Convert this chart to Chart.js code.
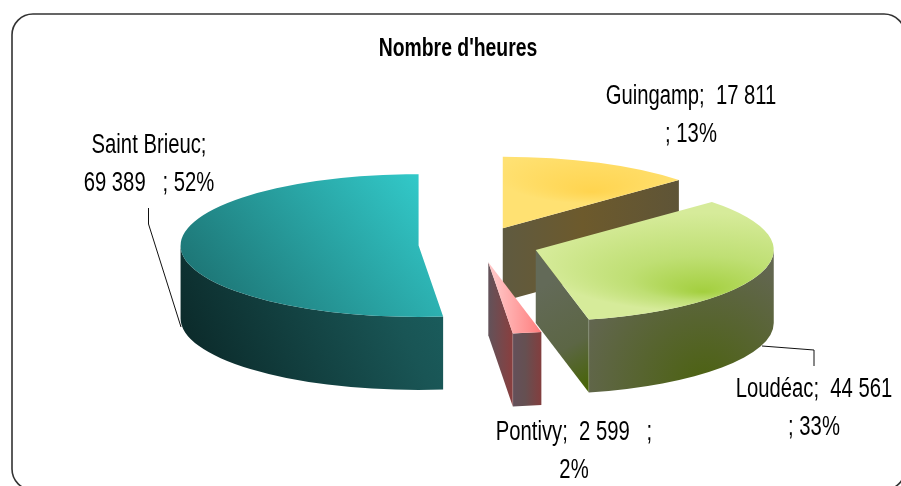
<!DOCTYPE html>
<html>
<head>
<meta charset="utf-8">
<style>
  html, body { margin: 0; padding: 0; background: #fff; overflow: hidden; }
  canvas { display: block; }
</style>
<script src="https://cdn.jsdelivr.net/npm/chart.js@4/dist/chart.umd.min.js"></script>
</head>
<body>
<canvas id="myChart" width="901" height="486"></canvas>
<script>
const titleText = "Nombre d'heures";
const categories = ['Guingamp', 'Loudéac', 'Pontivy', 'Saint Brieuc'];
const heures = [17811, 44561, 2599, 69389];
const labelLines = [
    ['Guingamp;  17 811', '; 13%'],
    ['Loudéac;  44 561', '; 33%'],
    ['Pontivy;  2 599   ;', '2%'],
    ['Saint Brieuc;', '69 389   ; 52%']
];
const labelCenters = [[691, 97], [814, 390], [574, 433], [149, 146]];
const leaders = [
    null,
    [[762, 346], [814, 350], [814, 366]],
    null,
    [[148.5, 208], [148.5, 224], [181, 327]]
];

// vue 3D : centre du camembert, ecrasement, eclatement, epaisseur
const centerX = 478.5, centerY = 244.6;
const tilt = 0.3, explode = 60, depth = 73;
const drawOrder = [0, 3, 1, 2];
const fontName = '"Liberation Sans", Arial, sans-serif';
// pas de police etroite installee
const narrow = 0.75, narrowTitle = 0.775;

function sliceOrigin(start, end) {
    const mid = (start + end) / 2;
    return [centerX + explode * Math.cos(mid), centerY + explode * Math.sin(mid) * tilt];
}

function sliceAngles(index) {
    const total = heures.reduce((a, b) => a + b, 0);
    let start = -Math.PI / 2;
    for (let i = 0; i < index; i++) start += heures[i] / total * Math.PI * 2;
    return [start, start + heures[index] / total * Math.PI * 2];
}

// degrade du dessus, donne en pixels ecran puis ramene dans le repere de l'arc
function topFill(context) {
    const chart = context.chart;
    const i = context.dataIndex;
    if (!chart.chartArea || i === undefined) return '#888';
    const ax = (chart.chartArea.left + chart.chartArea.right) / 2;
    const ay = (chart.chartArea.top + chart.chartArea.bottom) / 2;
    const [start, end] = sliceAngles(i);
    const [ox, oy] = sliceOrigin(start, end);
    const px = x => ax + x - ox;
    const py = y => ay + (y - oy) / tilt;
    const ctx = chart.ctx;

    // ligne de degrade droite a l'ecran malgre l'ecrasement
    const linear = (x0, y0, x1, y1) => {
        const gx = x1 - x0, gy = y1 - y0;
        const k = (gx * gx + gy * gy) / (gx * gx + tilt * tilt * gy * gy);
        const lx = px(x0), ly = py(y0);
        return ctx.createLinearGradient(lx, ly, lx + gx * k, ly + tilt * gy * k);
    };

    let g;
    if (i === 0) {
        g = ctx.createRadialGradient(px(592), py(192), 0, px(592), py(175), 95);
        g.addColorStop(0, '#ffd44f');
        g.addColorStop(1, '#ffe172');
    } else if (i === 1) {
        g = ctx.createRadialGradient(px(703), py(292), 0, px(703), py(262), 165);
        g.addColorStop(0, '#a3cf3e');
        g.addColorStop(0.45, '#bfdf74');
        g.addColorStop(1, '#d6eb9a');
    } else if (i === 2) {
        g = linear(495, 300, 540, 300);
        g.addColorStop(0, '#ffc4c4');
        g.addColorStop(1, '#ff7f7f');
    } else {
        g = linear(430, 175, 235, 335);
        g.addColorStop(0, '#33cccc');
        g.addColorStop(1, '#1d7474');
    }
    return g;
}

function wallFill(ctx, i, kind) {
    let g;
    if (i === 0) {
        g = ctx.createLinearGradient(503, 0, 680, 0);
        g.addColorStop(0, '#5f5a40');
        g.addColorStop(0.45, '#6d5a2c');
        g.addColorStop(1, '#5e5437');
    } else if (i === 1 && kind === 'side') {
        g = ctx.createLinearGradient(535, 290, 590, 385);
        g.addColorStop(0, '#636a58');
        g.addColorStop(0.6, '#5c6645');
        g.addColorStop(1, '#486408');
    } else if (i === 1) {
        g = ctx.createRadialGradient(705, 385, 0, 705, 385, 130);
        g.addColorStop(0, '#4c6210');
        g.addColorStop(1, '#62664f');
    } else if (i === 2 && kind === 'side') {
        g = ctx.createLinearGradient(489, 0, 513, 0);
        g.addColorStop(0, '#635259');
        g.addColorStop(1, '#8a3e3e');
    } else if (i === 2) {
        g = ctx.createLinearGradient(513, 0, 543, 0);
        g.addColorStop(0, '#64505a');
        g.addColorStop(0.4, '#655052');
        g.addColorStop(1, '#863c3c');
    } else {
        g = ctx.createLinearGradient(440, 300, 225, 405);
        g.addColorStop(0, '#1a5c5c');
        g.addColorStop(0.2, '#195555');
        g.addColorStop(1, '#0c2c2c');
    }
    return g;
}

function drawWalls(ctx, arc, i) {
    const R = arc.outerRadius;
    const start = arc.startAngle, end = arc.endAngle;
    const [ox, oy] = sliceOrigin(start, end);
    const point = a => [ox + R * Math.cos(a), oy + R * tilt * Math.sin(a)];

    // face radiale, visible seulement si elle regarde vers l'avant
    if (Math.cos(end) > 0.01) {
        const [ex, ey] = point(end);
        ctx.fillStyle = wallFill(ctx, i, 'side');
        ctx.beginPath();
        ctx.moveTo(ox, oy);
        ctx.lineTo(ex, ey);
        ctx.lineTo(ex, ey + depth);
        ctx.lineTo(ox, oy + depth);
        ctx.closePath();
        ctx.fill();
    }

    // face exterieure : partie de l'arc tournee vers nous
    const a0 = Math.max(start, 0);
    const a1 = Math.min(end, Math.PI);
    if (a1 > a0) {
        ctx.fillStyle = wallFill(ctx, i, 'outer');
        ctx.beginPath();
        ctx.ellipse(ox, oy, R, R * tilt, 0, a0, a1);
        ctx.ellipse(ox, oy + depth, R, R * tilt, 0, a1, a0, true);
        ctx.closePath();
        ctx.fill();
        if (a1 === end) {
            const [ex, ey] = point(end);
            ctx.strokeStyle = 'rgba(255,255,255,0.15)';
            ctx.lineWidth = 1;
            ctx.beginPath();
            ctx.moveTo(ex, ey);
            ctx.lineTo(ex, ey + depth);
            ctx.stroke();
        }
    }
}

function narrowText(ctx, text, x, y, sx) {
    ctx.save();
    ctx.translate(x, y);
    ctx.scale(sx, 1);
    ctx.fillText(text, 0, 0);
    ctx.restore();
}

const pie3d = {
    id: 'pie3d',
    beforeDraw(chart) {
        const ctx = chart.ctx;
        ctx.save();
        ctx.strokeStyle = '#333333';
        ctx.lineWidth = 1.6;
        ctx.beginPath();
        ctx.roundRect(12, 14, 893, 476, 21);
        ctx.stroke();
        ctx.restore();
    },
    beforeDatasetDraw(chart, args) {
        const ctx = chart.ctx;
        const arcs = args.meta.data;
        drawOrder.forEach(i => {
            const arc = arcs[i];
            const [ox, oy] = sliceOrigin(arc.startAngle, arc.endAngle);
            ctx.save();
            drawWalls(ctx, arc, i);
            ctx.translate(ox, oy);
            ctx.scale(1, tilt);
            ctx.translate(-arc.x, -arc.y);
            arc.draw(ctx);
            ctx.restore();
        });
        return false;
    },
    afterDraw(chart) {
        const ctx = chart.ctx;
        ctx.save();
        ctx.strokeStyle = '#111111';
        ctx.lineWidth = 1;
        leaders.forEach(line => {
            if (!line) return;
            ctx.beginPath();
            line.forEach((p, k) => k ? ctx.lineTo(p[0], p[1]) : ctx.moveTo(p[0], p[1]));
            ctx.stroke();
        });
        ctx.fillStyle = '#000';
        ctx.textAlign = 'center';
        ctx.textBaseline = 'middle';
        ctx.font = 'bold 25px ' + fontName;
        narrowText(ctx, titleText, 458, 49, narrowTitle);
        ctx.font = '27px ' + fontName;
        labelLines.forEach((lines, i) => {
            lines.forEach((text, k) => {
                narrowText(ctx, text, labelCenters[i][0], labelCenters[i][1] + k * 38, narrow);
            });
        });
        ctx.restore();
    }
};

new Chart(document.getElementById('myChart').getContext('2d'), {
    type: 'pie',
    data: {
        labels: categories,
        datasets: [{
            label: titleText,
            data: heures,
            backgroundColor: topFill,
            borderWidth: 0,
            clip: false
        }]
    },
    options: {
        responsive: false,
        animation: false,
        radius: 238,
        rotation: 0,
        events: [],
        plugins: {
            legend: { display: false },
            tooltip: { enabled: false },
            title: { display: false }
        }
    },
    plugins: [pie3d]
});
</script>
</body>
</html>
